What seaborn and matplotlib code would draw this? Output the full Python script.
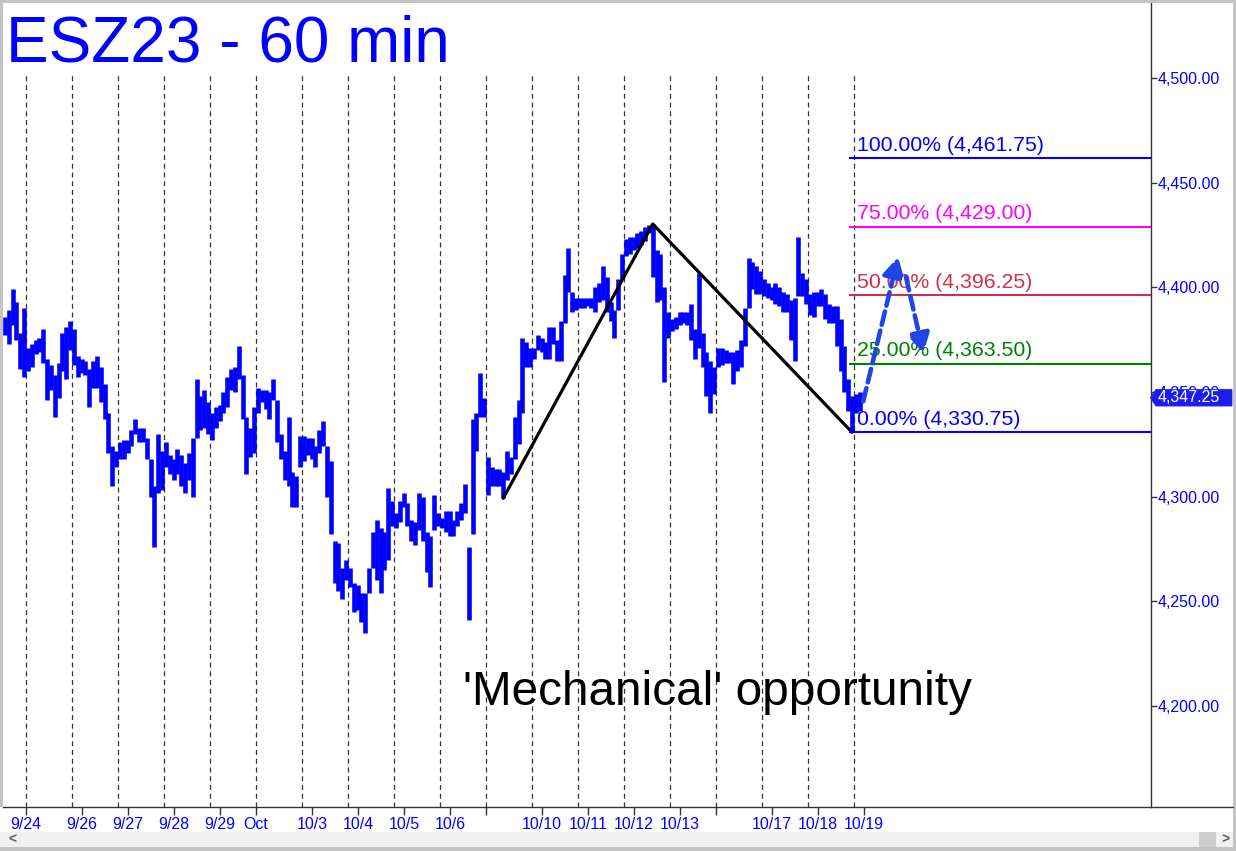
import numpy as np
import matplotlib
matplotlib.use("Agg")
import matplotlib.pyplot as plt
from matplotlib.patches import Rectangle, Polygon
from matplotlib.lines import Line2D
import seaborn as sns

# --- Data (2-hour high/low bars per session) ---
session_dates = ["9/22", "9/24", "9/26", "9/27", "9/28", "9/29", "Oct", "10/3", "10/4", "10/5",
                 "10/6", "10/9", "10/10", "10/11", "10/12", "10/13", "10/16", "10/17", "10/18", "10/19"]

lows = [
    [4377, 4373, 4382, 4375, 4361, 4357],
    [4360, 4362, 4368, 4369, 4364, 4346, 4351, 4338, 4347, 4360, 4356, 4370],
    [4363, 4357, 4359, 4358, 4343, 4352, 4352, 4345, 4337, 4321, 4305, 4314],
    [4318, 4318, 4321, 4324, 4330, 4326, 4326, 4318, 4300, 4276, 4302, 4303],
    [4314, 4311, 4308, 4311, 4305, 4302, 4308, 4300, 4328, 4332, 4333, 4330],
    [4327, 4333, 4336, 4340, 4343, 4351, 4350, 4356, 4337, 4311, 4319, 4321],
    [4340, 4345, 4342, 4337, 4346, 4326, 4318, 4308, 4305, 4295, 4295, 4314],
    [4317, 4320, 4318, 4314, 4321, 4324, 4300, 4282, 4259, 4255, 4251, 4260],
    [4257, 4245, 4246, 4240, 4235, 4254, 4266, 4260, 4254, 4265, 4270, 4286],
    [4285, 4288, 4295, 4286, 4279, 4277, 4284, 4279, 4264, 4257, 4284, 4286],
    [4285, 4283, 4281, 4281, 4286, 4289, 4292, 4241, 4282, 4322, 4338, 4338],
    [4301, 4305, 4305, 4305, 4299.25, 4308, 4311, 4318, 4325, 4340, 4362, 4362],
    [4366, 4370, 4369, 4366, 4366, 4373, 4365, 4365, 4383, 4398, 4388, 4389],
    [4390, 4390, 4391, 4390, 4388, 4393, 4394, 4388, 4384, 4376, 4389, 4404],
    [4415, 4416, 4418, 4419, 4420, 4422, 4426, 4405, 4393, 4394, 4355, 4376],
    [4379, 4380, 4382, 4383, 4382, 4375, 4366, 4371, 4362, 4348, 4340, 4349],
    [4362, 4363, 4364, 4364, 4354, 4360, 4362, 4372, 4390, 4399, 4397, 4397],
    [4396, 4395, 4394, 4392, 4391, 4388, 4388, 4375, 4365, 4396, 4396, 4392],
    [4387, 4386, 4391, 4391, 4385, 4383, 4383, 4372, 4360, 4350, 4341, 4330.75],
    [4340, 4341],
]
highs = [
    [4386, 4389, 4399, 4393, 4378, 4390],
    [4371, 4373, 4375, 4376, 4380, 4366, 4363, 4358, 4364, 4378, 4381, 4384],
    [4380, 4367, 4366, 4365, 4361, 4365, 4367, 4362, 4354, 4340, 4324, 4322],
    [4326, 4327, 4327, 4332, 4337, 4333, 4333, 4328, 4318, 4305, 4330, 4322],
    [4326, 4320, 4318, 4323, 4320, 4316, 4321, 4328, 4356, 4348, 4351, 4345],
    [4340, 4343, 4344, 4350, 4357, 4361, 4362, 4372, 4358, 4338, 4333, 4343],
    [4352, 4351, 4351, 4350, 4356, 4346, 4330, 4322, 4338, 4312, 4310, 4329],
    [4329, 4328, 4328, 4324, 4332, 4336, 4324, 4317, 4279, 4278, 4266, 4270],
    [4266, 4259, 4258, 4254, 4254, 4266, 4283, 4289, 4285, 4283, 4304, 4298],
    [4292, 4298, 4302, 4297, 4289, 4288, 4302, 4300, 4283, 4281, 4301, 4292],
    [4290, 4293, 4293, 4289, 4293, 4297, 4306, 4276, 4337, 4340, 4359, 4347],
    [4319, 4314, 4313, 4313, 4312, 4322, 4319, 4338, 4346, 4376, 4374, 4371],
    [4371, 4377, 4376, 4374, 4381, 4381, 4375, 4384, 4406, 4419, 4398, 4395],
    [4395, 4395, 4395, 4395, 4400, 4402, 4410, 4405, 4393, 4389, 4404, 4416],
    [4423, 4424, 4424, 4426, 4427, 4429, 4430, 4430.25, 4418, 4416, 4400, 4388],
    [4385, 4386, 4388, 4388, 4388, 4392, 4380, 4407, 4378, 4369, 4365, 4362],
    [4371, 4371, 4370, 4369, 4369, 4370, 4375, 4390, 4414, 4412, 4410, 4408],
    [4404, 4402, 4400, 4402, 4400, 4398, 4397, 4394, 4395, 4424, 4407, 4404],
    [4397, 4398, 4398, 4399, 4397, 4392, 4391, 4391, 4385, 4372, 4356, 4348],
    [4349, 4350],
]
last_price = 4347.25

# x-axis date ticks (session units; dashed lines mark session opens)
tick_pos = [0, 1.22, 2.22, 3.22, 4.22, 5, 6.22, 7.22, 8.22, 9.22, 10,
            11.22, 12.22, 13.22, 14.22, 15, 16.22, 17.22, 18.22]
tick_labels = ["9/24", "9/26", "9/27", "9/28", "9/29", "Oct", "10/3", "10/4", "10/5", "10/6", "",
               "10/10", "10/11", "10/12", "10/13", "", "10/17", "10/18", "10/19"]
price_ticks = [4200, 4250, 4300, 4350, 4400, 4450, 4500]

fib_ratios = [0.0, 0.25, 0.5, 0.75, 1.0]
fib_colors = ["#0000ff", "#008000", "#d1304b", "#ff00ff", "#0000ff"]

# projected path (hand-drawn arrows): session position, price
proj_x = [18.2, 18.96, 19.13, 19.51]
proj_p = [4345.5, 4414.5, 4405.0, 4368.5]

# --- Build bar positions ---
bars_per_session = 12
flat_lo = np.concatenate([np.array(s, dtype=float) for s in lows])
flat_hi = np.concatenate([np.array(s, dtype=float) for s in highs])
bar_x = (np.arange(len(flat_lo)) - len(lows[0]) + 0.5) / bars_per_session

# swing points A (session of 10/9), B (top), C (low after top)
s10_start = len(lows[0]) + 10 * bars_per_session
i_A = s10_start + int(np.argmin(flat_lo[s10_start:s10_start + bars_per_session]))
i_B = int(np.argmax(flat_hi))
i_C = i_B + int(np.argmin(flat_lo[i_B:]))
A, B, C = flat_lo[i_A], flat_hi[i_B], flat_lo[i_C]
fib_levels = [C + r * (B - A) for r in fib_ratios]

# --- Plot ---
sns.set_style("white")
plt.rcParams["font.family"] = ["Liberation Sans", "DejaVu Sans"]

W, H = 1236, 851
fig = plt.figure(figsize=(W / 100, H / 100), dpi=100)
ax = fig.add_axes([3 / W, 1 - 807 / H, 1148 / W, 804 / H])

x_lo, x_hi = -0.5, 24.457
ax.set_xlim(x_lo, x_hi)
ax.set_ylim(4151.8, 4535.8)

for k in range(19):
    ax.axvline(k, ymin=0, ymax=0.9104, color="#333333", lw=0.9, ls=(0, (4, 3)), zorder=1)

ax.vlines(bar_x, flat_lo, flat_hi, color="#0000ff", lw=3.3, zorder=3)

sns.lineplot(x=[bar_x[i_A], bar_x[i_B], bar_x[i_C]], y=[A, B, C], color="black",
             lw=2.3, estimator=None, sort=False, ax=ax, zorder=4)

for r, lev, col in zip(fib_ratios, fib_levels, fib_colors):
    ax.hlines(lev, bar_x[i_C] - 0.06, x_hi, color=col, lw=1.5, zorder=4)
    ax.text(bar_x[i_C] + 0.1, lev + 3.5, f"{r * 100:.2f}% ({lev:,.2f})", color=col,
            fontsize=15.3, va="baseline", ha="left", zorder=5)

arrow_col = "#1f45e6"
for j in (0, 2):
    ax.annotate("", xy=(proj_x[j + 1], proj_p[j + 1]), xytext=(proj_x[j], proj_p[j]),
                arrowprops=dict(arrowstyle="-|>,head_length=0.9,head_width=0.5",
                                mutation_scale=13, lw=3.3, ls=(0, (3, 1.3)),
                                color=arrow_col, shrinkA=0, shrinkB=0), zorder=6)

ax.text(9.5, 4200.5, "'Mechanical' opportunity", fontsize=34.4, color="black",
        va="baseline", ha="left", zorder=5)

# axes styling
for side in ("left", "top"):
    ax.spines[side].set_visible(False)
for side in ("right", "bottom"):
    ax.spines[side].set_color("#333333")
    ax.spines[side].set_linewidth(1.0)

ax.yaxis.tick_right()
ax.set_yticks(price_ticks)
ax.set_yticklabels([f"{v:,.2f}" for v in price_ticks])
ax.tick_params(axis="y", right=True, left=False, length=4.3, width=1, color="#333333",
               labelcolor="#0000ff", labelsize=11.5, pad=0.7, direction="out")
ax.set_xticks(tick_pos)
ax.set_xticklabels(tick_labels)
ax.tick_params(axis="x", bottom=True, length=5.8, width=1, color="#333333",
               labelcolor="#0000ff", labelsize=11.5, pad=1.5, direction="out")
ax.set_xlabel("")
ax.set_ylabel("")

# last price marker on the right scale (covers the 4,350.00 label as in the source)
trans = ax.get_yaxis_transform()
h = 3.8
marker = Polygon([(1.0044, last_price + h), (1.0703, last_price + h), (1.0703, last_price - h),
                  (1.0044, last_price - h), (0.9998, last_price)], closed=True,
                 transform=trans, facecolor="#1c1cf0", edgecolor="#1c1cf0", clip_on=False, zorder=10)
ax.add_patch(marker)
ax.text(1.0062, last_price, f"{last_price:,.2f}", transform=trans, color="white",
        fontsize=11.5, va="center", ha="left", clip_on=False, zorder=11)

# title
fig.text(6 / W, 1 - 62 / H, "ESZ23 - 60 min", fontsize=46, color="#0000ff", va="baseline", ha="left")

# window chrome: borders, scrollbar, extended axis line
fig.add_artist(Line2D([1151 / W, 1233 / W], [1 - 807 / H, 1 - 807 / H], color="#333333", lw=1.0))
gray = "#c4c4c4"
fig.add_artist(Rectangle((0, 1 - 3 / H), 1, 3 / H, transform=fig.transFigure, color=gray, lw=0))
fig.add_artist(Rectangle((0, 1 - 807 / H), 3 / W, 804 / H, transform=fig.transFigure, color=gray, lw=0))
fig.add_artist(Rectangle((1233 / W, 0), 3 / W, 1, transform=fig.transFigure, color=gray, lw=0))
fig.add_artist(Rectangle((0, 0), 1, 4 / H, transform=fig.transFigure, color=gray, lw=0))
fig.add_artist(Rectangle((0, 4 / H), 1233 / W, 15 / H, transform=fig.transFigure, color="#f0f0f0", lw=0))
fig.add_artist(Rectangle((1199 / W, 4 / H), 17 / W, 15 / H, transform=fig.transFigure, color="#cdcdcd", lw=0))
fig.text(8 / W, 11.5 / H, "<", fontsize=10, color="#606060", va="center", ha="left", fontweight="bold")
fig.text(1221 / W, 11.5 / H, ">", fontsize=10, color="#606060", va="center", ha="left", fontweight="bold")

fig.savefig("out.png", dpi=100, facecolor="white")
